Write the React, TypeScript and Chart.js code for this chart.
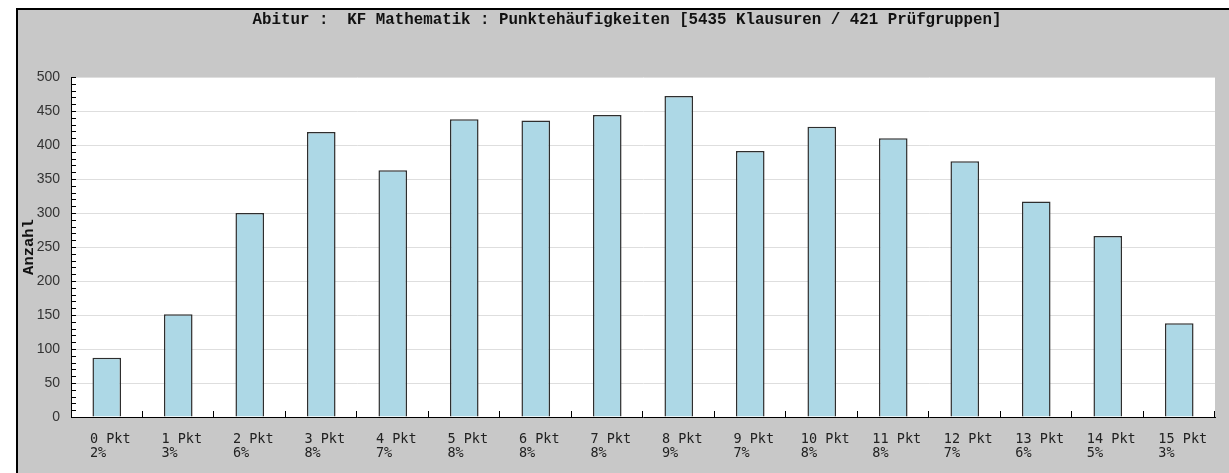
import { useEffect, useRef } from 'react';
import { Chart, registerables } from 'chart.js';

Chart.register(...registerables);

const TITLE = 'Abitur :  KF Mathematik : Punktehäufigkeiten [5435 Klausuren / 421 Prüfgruppen]';
const Y_TITLE = 'Anzahl';
const categories = ['0 Pkt', '1 Pkt', '2 Pkt', '3 Pkt', '4 Pkt', '5 Pkt', '6 Pkt', '7 Pkt', '8 Pkt', '9 Pkt', '10 Pkt', '11 Pkt', '12 Pkt', '13 Pkt', '14 Pkt', '15 Pkt'];
const counts = [87, 151, 300, 419, 363, 438, 436, 444, 472, 391, 427, 410, 376, 317, 266, 138];
const percents = ['2%', '3%', '6%', '8%', '7%', '8%', '8%', '8%', '9%', '7%', '8%', '8%', '7%', '6%', '5%', '3%'];
const yMin = 0;
const yMax = 500;
const yStep = 50;
const yMinorStep = 10;

const W = 1229;
const H = 473;

export default function App() {
  const ref = useRef<HTMLCanvasElement>(null);

  useEffect(() => {
    document.body.style.margin = '0';
    const canvas = ref.current!;

    const frame = {
      id: 'frame',
      beforeDraw(chart: any) {
        const { ctx, chartArea: a } = chart;
        ctx.save();
        ctx.fillStyle = '#ffffff';
        ctx.fillRect(0, 0, W, H);
        ctx.fillStyle = '#c8c8c8';
        ctx.fillRect(16, 8, W - 16, H - 8);
        ctx.fillStyle = '#000000';
        ctx.fillRect(16, 8, W - 16, 2);
        ctx.fillRect(16, 8, 2, H - 8);
        ctx.fillStyle = '#ffffff';
        ctx.fillRect(a.left, a.top, a.right - a.left, a.bottom - a.top);
        ctx.font = 'bold 15.8px "Liberation Mono"';
        ctx.textAlign = 'center';
        ctx.textBaseline = 'middle';
        ctx.fillStyle = '#111111';
        ctx.fillText(TITLE, 627, 20);
        ctx.restore();
      },
      afterDraw(chart: any) {
        const { ctx, chartArea: a } = chart;
        const ys = chart.scales.y;
        const xs = chart.scales.x;
        ctx.save();
        ctx.strokeStyle = '#000000';
        ctx.lineWidth = 1;
        ctx.beginPath();
        for (let v = yMin; v <= yMax; v += yMinorStep) {
          const y = Math.round(ys.getPixelForValue(v)) + 0.5;
          ctx.moveTo(a.left, y);
          ctx.lineTo(a.left + 5, y);
        }
        const n = categories.length;
        const half = (xs.getPixelForValue(1) - xs.getPixelForValue(0)) / 2;
        for (let i = 0; i < n; i++) {
          const x = Math.round(xs.getPixelForValue(i) + half) - 0.5;
          ctx.moveTo(x, a.bottom);
          ctx.lineTo(x, a.bottom - 6);
        }
        ctx.stroke();
        ctx.restore();
      },
    };

    const chart = new Chart(canvas, {
      type: 'bar',
      data: {
        // second line padded so both lines share a left edge when centred (monospace)
        labels: categories.map((c, i) => [c, percents[i].padEnd(c.length, ' ')]),
        datasets: [
          {
            data: counts,
            backgroundColor: '#add8e6',
            borderColor: '#2e2e2e',
            borderWidth: 1.5,
            barPercentage: 0.4,
            categoryPercentage: 1.0,
          },
        ],
      },
      options: {
        responsive: false,
        animation: false,
        layout: { padding: { left: 16, right: 14, top: 77, bottom: 0 } },
        plugins: {
          legend: { display: false },
          title: { display: false },
          tooltip: { enabled: false },
        },
        scales: {
          x: {
            offset: true,
            grid: { display: false, drawTicks: false },
            border: { display: true, color: '#000000', width: 1 },
            ticks: {
              autoSkip: false,
              maxRotation: 0,
              align: 'center',
              labelOffset: 3.5,
              padding: 15,
              color: '#222222',
              font: { family: '"DejaVu Sans Mono"', size: 13.5, lineHeight: 1.04 },
            },
            afterFit(scale: any) {
              scale.height = 56;
              scale.paddingLeft = 0;
              scale.paddingRight = 0;
            },
          },
          y: {
            min: yMin,
            max: yMax,
            grid: { color: '#dedede', lineWidth: 1, drawTicks: false },
            border: { display: true, color: '#000000', width: 1 },
            ticks: {
              stepSize: yStep,
              padding: 11,
              color: '#333333',
              font: { family: '"Liberation Sans"', size: 14 },
            },
            title: {
              display: true,
              text: Y_TITLE,
              color: '#111111',
              padding: { top: 4, bottom: 0 },
              font: { family: '"Liberation Mono"', size: 15.5, weight: 'bold' },
            },
            afterFit(scale: any) {
              scale.width = 55;
              scale.paddingTop = 0;
              scale.paddingBottom = 0;
            },
          },
        },
      },
      plugins: [frame],
    });

    return () => chart.destroy();
  }, []);

  return (
    <div style={{ width: W, height: H }}>
      <canvas ref={ref} width={W} height={H} style={{ display: 'block', width: W, height: H }} />
    </div>
  );
}
